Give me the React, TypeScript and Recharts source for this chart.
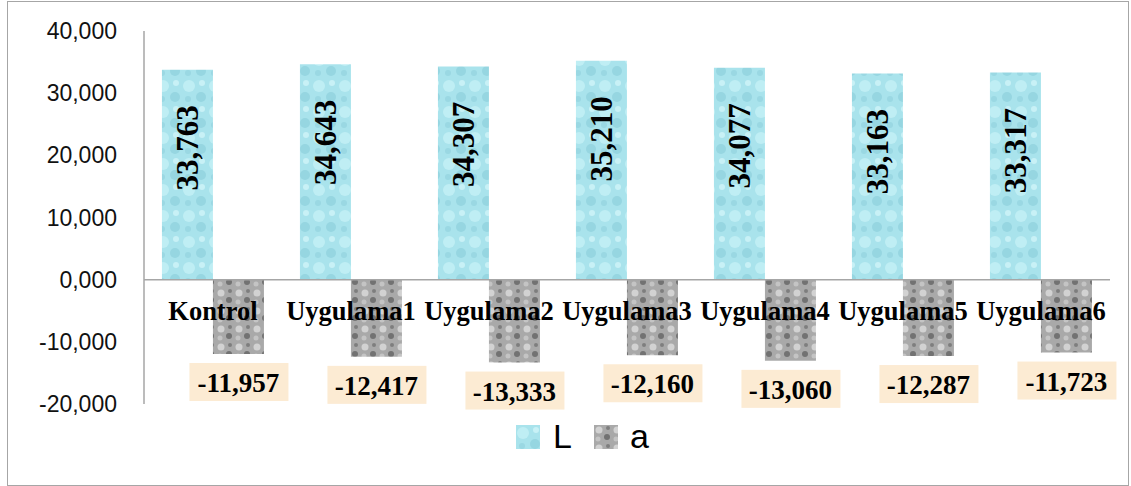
import React from 'react';
import { BarChart, Bar, XAxis, YAxis, Legend, LabelList, ReferenceLine } from 'recharts';

const categories = ['Kontrol', 'Uygulama1', 'Uygulama2', 'Uygulama3', 'Uygulama4', 'Uygulama5', 'Uygulama6'];
const lValues = [33.763, 34.643, 34.307, 35.21, 34.077, 33.163, 33.317];
const aValues = [-11.957, -12.417, -13.333, -12.16, -13.06, -12.287, -11.723];
const yTicks = [-20, -10, 0, 10, 20, 30, 40];

const data = categories.map((name, i) => ({ name, L: lValues[i], a: aValues[i] }));

const fmt = (v: number) => v.toFixed(3).replace('.', ',');

const serif = '"Liberation Serif", "Times New Roman", serif';
const sans = '"Liberation Sans", Arial, sans-serif';

// category names sit just under the zero line, drawn over the "a" bars like in the original
const CategoryLabel = ({ x, y, width, height, value }: any) => {
  const zeroY = Math.max(y, y + height);
  return (
    <text x={x + width} y={zeroY + 40} textAnchor="middle" fontFamily={serif} fontWeight="bold" fontSize={26.5} fill="#000">
      {value}
    </text>
  );
};

const LLabel = ({ x, y, width, value }: any) => {
  const cx = x + width / 2;
  const cy = y + 78;
  return (
    <text
      x={cx}
      y={cy}
      transform={`rotate(-90 ${cx} ${cy})`}
      textAnchor="middle"
      dominantBaseline="central"
      fontFamily={serif}
      fontWeight="bold"
      fontSize={31}
      fill="#000"
    >
      {fmt(value)}
    </text>
  );
};

const ALabel = ({ x, y, width, height, value }: any) => {
  const bottom = Math.max(y, y + height);
  const cx = x + width / 2;
  const top = bottom + 9;
  return (
    <g>
      <rect x={cx - 49} y={top} width={99} height={38} fill="#fcebd3" />
      <text
        x={cx}
        y={top + 20}
        textAnchor="middle"
        dominantBaseline="central"
        fontFamily={serif}
        fontWeight="bold"
        fontSize={27}
        fill="#000"
      >
        {fmt(value)}
      </text>
    </g>
  );
};

const LegendContent = () => (
  <div style={{ display: 'flex', alignItems: 'center', width: 1131, paddingLeft: 516, fontFamily: sans, fontSize: 34, color: '#000' }}>
    <svg width={24} height={24}>
      <rect width={24} height={24} fill="url(#patL)" />
    </svg>
    <span style={{ marginLeft: 13, marginRight: 22 }}>L</span>
    <svg width={24} height={24}>
      <rect width={24} height={24} fill="url(#patA)" />
    </svg>
    <span style={{ marginLeft: 12 }}>a</span>
  </div>
);

export default function App() {
  return (
    <div style={{ position: 'absolute', left: 0, top: 0, width: 1131, height: 486, background: '#fff' }}>
      <div
        style={{
          position: 'absolute',
          left: 7,
          top: 1,
          width: 1120,
          height: 483,
          border: '1.5px solid #a6a6a6',
        }}
      />
      <BarChart
        width={1131}
        height={486}
        data={data}
        margin={{ top: 31, right: 21, bottom: 36, left: 0 }}
        barCategoryGap="13%"
        barGap={0}
        style={{ position: 'absolute', left: 0, top: 0 }}
      >
        <defs>
          <pattern id="patL" width="26" height="26" patternUnits="userSpaceOnUse">
            <rect width="26" height="26" fill="#a9e3ec" />
            <circle cx="7" cy="8" r="6" fill="#bfeef4" />
            <circle cx="19" cy="19" r="5" fill="#96d6e1" />
            <circle cx="20" cy="5" r="3" fill="#c8f1f6" />
            <circle cx="6" cy="21" r="3" fill="#9ad8e3" />
          </pattern>
          <pattern id="patA" width="18" height="18" patternUnits="userSpaceOnUse">
            <rect width="18" height="18" fill="#a9a9a9" />
            <circle cx="5" cy="5" r="3.5" fill="#d2d2d2" />
            <circle cx="13" cy="12" r="3" fill="#727272" />
            <circle cx="14" cy="3" r="2" fill="#7e7e7e" />
            <circle cx="4" cy="14" r="2.5" fill="#c4c4c4" />
          </pattern>
        </defs>
        <YAxis
          domain={[-20, 40]}
          ticks={yTicks}
          tickFormatter={fmt}
          width={144}
          tickSize={0}
          tickMargin={27}
          axisLine={{ stroke: '#a6a6a6', strokeWidth: 1.5 }}
          tick={{ fontFamily: sans, fontSize: 23, fill: '#111' }}
          interval={0}
        />
        <XAxis dataKey="name" hide />
        <ReferenceLine y={0} stroke="#a6a6a6" strokeWidth={1.5} />
        <Bar dataKey="L" fill="url(#patL)" isAnimationActive={false}>
          <LabelList dataKey="L" content={LLabel} />
          <LabelList dataKey="name" content={CategoryLabel} />
        </Bar>
        <Bar dataKey="a" fill="url(#patA)" isAnimationActive={false}>
          <LabelList dataKey="a" content={ALabel} />
        </Bar>
        <Legend verticalAlign="bottom" height={46} content={LegendContent} wrapperStyle={{ left: 0, width: 1131, bottom: 23 }} />
      </BarChart>
    </div>
  );
}
